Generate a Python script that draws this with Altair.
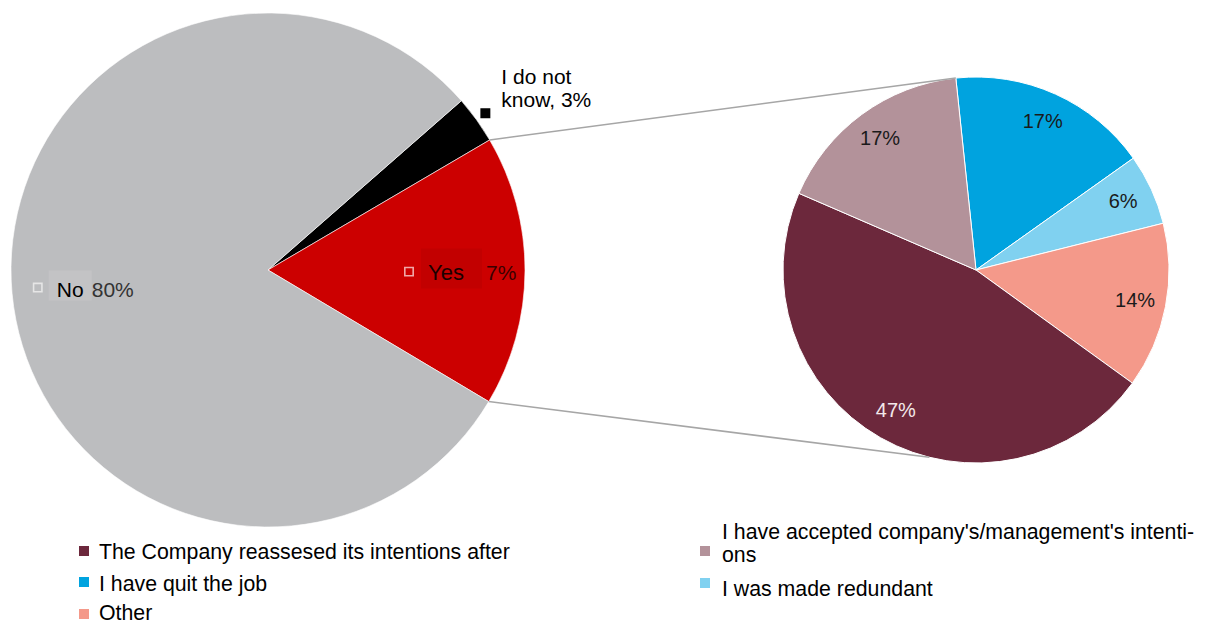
import math
import altair as alt
import pandas as pd

FONT = "Liberation Sans"
W, H = 1206, 625

# ---------------- data ----------------
left_labels = ["I do not know", "Yes", "No"]
left_values = [3, 17, 80]
left_pct = ["3%", "7%", "80%"]
left_colors = ["#000000", "#cc0000", "#bcbdbf"]

right_labels = [
    "I have quit the job",
    "I was made redundant",
    "Other",
    "The Company reassesed its intentions after",
    "I have accepted company's/management's intenti-\nons",
]
right_values = [17, 6, 14, 47, 17]
right_pct = ["17%", "6%", "14%", "47%", "17%"]
right_colors = ["#00a3df", "#80d1f0", "#f4998a", "#6c283c", "#b3929a"]
right_text_colors = ["#1a1a1a", "#1a1a1a", "#1a1a1a", "#f3e8ea", "#1a1a1a"]

# legend entries: index into right_labels, in reading order
legend_entries = [3, 0, 2, 4, 1]

# ---------------- layout ----------------
LCX, LCY, LR = 268, 270, 257
LSTART = math.radians(48.8)
RCX, RCY, RR = 976, 270, 193
RSTART = math.radians(-6)
CONNECT_RIGHT = [math.radians(-6), math.radians(194)]


def polar(cx, cy, r, a):
    return cx + r * math.sin(a), cy - r * math.cos(a)


def bounds(values, start):
    tot = sum(values)
    out, cum = [], 0
    for v in values:
        a0 = start + cum / tot * 2 * math.pi
        cum += v
        a1 = start + cum / tot * 2 * math.pi
        out.append((a0, a1))
    return out


lb = bounds(left_values, LSTART)
lmid = [(a + b) / 2 for a, b in lb]

PX = alt.Scale(domain=[0, W], range=[0, W], nice=False, zero=False)
PY = alt.Scale(domain=[0, H], range=[0, H], nice=False, zero=False)

# ---------------- left pie ----------------
ldf = pd.DataFrame({"label": left_labels, "value": left_values,
                    "color": left_colors, "ord": list(range(len(left_values)))})
left_arc = alt.Chart(ldf).mark_arc(outerRadius=LR, stroke="#ffffff", strokeWidth=0.6).encode(
    theta=alt.Theta("value:Q", stack=True,
                    scale=alt.Scale(range=[LSTART, LSTART + 2 * math.pi], nice=False, zero=True)),
    color=alt.Color("color:N", scale=None),
    order=alt.Order("ord:Q"),
    x=alt.value(LCX), y=alt.value(LCY),
)

# ---------------- right pie ----------------
rdf = pd.DataFrame({"label": right_labels, "value": right_values, "pct": right_pct,
                    "color": right_colors, "tcolor": right_text_colors,
                    "ord": list(range(len(right_values)))})
rtheta = alt.Theta("value:Q", stack=True,
                   scale=alt.Scale(range=[RSTART, RSTART + 2 * math.pi], nice=False, zero=True))
right_arc = alt.Chart(rdf).mark_arc(outerRadius=RR, stroke="#ffffff", strokeWidth=1).encode(
    theta=rtheta, color=alt.Color("color:N", scale=None), order=alt.Order("ord:Q"),
    x=alt.value(RCX), y=alt.value(RCY),
)
right_text = alt.Chart(rdf).mark_text(radius=162, fontSize=20, font=FONT).encode(
    theta=rtheta, order=alt.Order("ord:Q"), text="pct:N",
    color=alt.Color("tcolor:N", scale=None),
    x=alt.value(RCX), y=alt.value(RCY),
)
right_pie = alt.layer(right_arc, right_text)

# ---------------- connectors ----------------
conn_rows = []
for (la, ra) in [(lb[1][0], CONNECT_RIGHT[0]), (lb[1][1], CONNECT_RIGHT[1])]:
    x1, y1 = polar(LCX, LCY, LR, la)
    x2, y2 = polar(RCX, RCY, RR, ra)
    conn_rows.append({"x": x1, "y": y1, "x2": x2, "y2": y2})
connectors = alt.Chart(pd.DataFrame(conn_rows)).mark_rule(color="#a6a6a6", strokeWidth=1.5).encode(
    x=alt.X("x:Q", scale=PX, axis=None), y=alt.Y("y:Q", scale=PY, axis=None),
    x2="x2:Q", y2="y2:Q",
)

# ---------------- left pie labels ----------------
no_x, no_y = polar(LCX, LCY, 183, lmid[2])
yes_x, yes_y = polar(LCX, LCY, 177, lmid[1])
dk_x, dk_y = polar(LCX, LCY, 268, lmid[0])

boxes = pd.DataFrame([
    {"x": no_x - 37, "x2": no_x + 6, "y": no_y - 16, "y2": no_y + 14, "color": "#c3c3c5"},
    {"x": yes_x - 24, "x2": yes_x + 37, "y": yes_y - 22, "y2": yes_y + 18, "color": "#c20000"},
])
box_layer = alt.Chart(boxes).mark_rect().encode(
    x=alt.X("x:Q", scale=PX, axis=None), x2="x2:Q",
    y=alt.Y("y:Q", scale=PY, axis=None), y2="y2:Q",
    color=alt.Color("color:N", scale=None),
)

markers = pd.DataFrame([
    {"x": no_x - 48, "y": no_y + 1, "stroke": "#e6e6e6", "fill": "transparent", "size": 70},
    {"x": yes_x - 36, "y": yes_y + 1, "stroke": "#f0a8a8", "fill": "transparent", "size": 70},
    {"x": dk_x, "y": dk_y, "stroke": "#000000", "fill": "#000000", "size": 70},
])
marker_layer = alt.Chart(markers).mark_point(shape="square", strokeWidth=1.6, opacity=1).encode(
    x=alt.X("x:Q", scale=PX, axis=None), y=alt.Y("y:Q", scale=PY, axis=None),
    stroke=alt.Stroke("stroke:N", scale=None), fill=alt.Fill("fill:N", scale=None),
    size=alt.Size("size:Q", scale=None),
)

label_rows = [
    {"x": no_x - 29, "y": no_y + 10, "text": left_labels[2], "color": "#000000", "fs": 21},
    {"x": no_x + 6, "y": no_y + 10, "text": left_pct[2], "color": "#333333", "fs": 21},
    {"x": yes_x - 17, "y": yes_y + 9, "text": left_labels[1], "color": "#1a0000", "fs": 22},
    {"x": yes_x + 41, "y": yes_y + 9, "text": left_pct[1], "color": "#3a0000", "fs": 21},
    {"x": dk_x + 16, "y": dk_y - 29, "text": "I do not\nknow, " + left_pct[0], "color": "#000000", "fs": 21},
]

# ---------------- legend ----------------
leg_pos = {3: (84, 551, 99, 559), 0: (84, 582, 99, 591), 2: (84, 614, 99, 620),
           4: (705, 551, 722, 539), 1: (705, 583, 722, 596)}
leg_sq = []
for i in legend_entries:
    sx, sy, tx, ty = leg_pos[i]
    leg_sq.append({"x": sx, "y": sy, "color": right_colors[i]})
    label_rows.append({"x": tx, "y": ty, "text": right_labels[i], "color": "#000000", "fs": 21.3})

leg_sq_layer = alt.Chart(pd.DataFrame(leg_sq)).mark_square(size=100, opacity=1).encode(
    x=alt.X("x:Q", scale=PX, axis=None), y=alt.Y("y:Q", scale=PY, axis=None),
    color=alt.Color("color:N", scale=None),
)

text_layer = alt.Chart(pd.DataFrame(label_rows)).mark_text(
    align="left", baseline="alphabetic", font=FONT, lineBreak="\n", lineHeight=23
).encode(
    x=alt.X("x:Q", scale=PX, axis=None), y=alt.Y("y:Q", scale=PY, axis=None),
    text="text:N", color=alt.Color("color:N", scale=None),
    size=alt.Size("fs:Q", scale=None),
)

chart = alt.layer(
    left_arc, right_pie, connectors, box_layer, marker_layer, leg_sq_layer, text_layer
).resolve_scale(theta="independent").properties(
    width=W, height=H, autosize=alt.AutoSizeParams(type="none"), padding=0,
    background="#ffffff",
).configure_view(stroke=None)

chart.save("out.html", embed_options={"renderer": "svg", "actions": False})
